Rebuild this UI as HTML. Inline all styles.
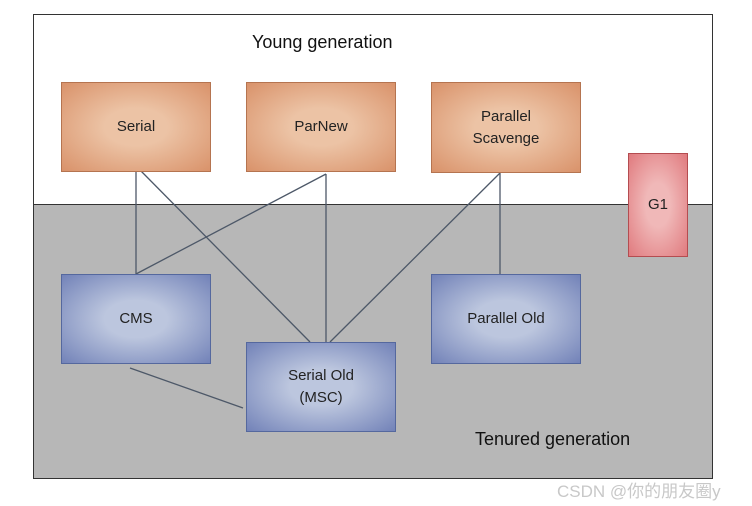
<!DOCTYPE html><html><head><style>
body{margin:0;width:752px;height:506px;background:#fff;position:relative;overflow:hidden;font-family:"Comic Sans MS","Liberation Sans",sans-serif;}
.b{position:absolute;box-sizing:border-box;display:flex;align-items:center;justify-content:center;text-align:center;font-size:15px;color:#222;line-height:22px}
.o{background:radial-gradient(ellipse at center,#ecc3a5 30%,#d9926a 100%);border:1px solid #b57450}
.u{background:radial-gradient(ellipse at center,#bcc6de 30%,#7282b8 100%);border:1px solid #55689e}
.r{background:radial-gradient(ellipse at center,#f0b8b8 30%,#e07a7e 100%);border:1px solid #b44c50}
.t{position:absolute;font-size:18px;color:#111}
</style></head><body>
<div style="position:absolute;left:33px;top:14px;width:680px;height:465px;border:1px solid #333;box-sizing:border-box;background:#fff"></div>
<div style="position:absolute;left:33px;top:204px;width:680px;height:275px;border:1px solid #333;box-sizing:border-box;background:#b7b7b7"></div>
<svg style="position:absolute;left:0;top:0" width="752" height="506"><g stroke="#4d5868" stroke-width="1.3" fill="none">
<line x1="136" y1="172" x2="136" y2="274"/><line x1="140" y1="170" x2="310" y2="342"/>
<line x1="326" y1="174" x2="136" y2="274"/><line x1="326" y1="174" x2="326" y2="342"/>
<line x1="500" y1="173" x2="330" y2="342"/><line x1="500" y1="173" x2="500" y2="274"/>
<line x1="130" y1="368" x2="243" y2="408"/></g></svg>
<div class="t" style="left:252px;top:32px">Young generation</div>
<div class="t" style="left:475px;top:429px">Tenured generation</div>
<div class="b o" style="left:61px;top:82px;width:150px;height:90px">Serial</div>
<div class="b o" style="left:246px;top:82px;width:150px;height:90px">ParNew</div>
<div class="b o" style="left:431px;top:82px;width:150px;height:91px">Parallel<br>Scavenge</div>
<div class="b r" style="left:628px;top:153px;width:60px;height:104px">G1</div>
<div class="b u" style="left:61px;top:274px;width:150px;height:90px">CMS</div>
<div class="b u" style="left:431px;top:274px;width:150px;height:90px">Parallel Old</div>
<div class="b u" style="left:246px;top:342px;width:150px;height:90px">Serial Old<br>(MSC)</div>
<div style="position:absolute;left:557px;top:477px;font-size:17px;color:#c8c8c8;font-family:'Liberation Sans','Noto Sans CJK SC',sans-serif">CSDN @你的朋友圈y</div>
</body></html>
